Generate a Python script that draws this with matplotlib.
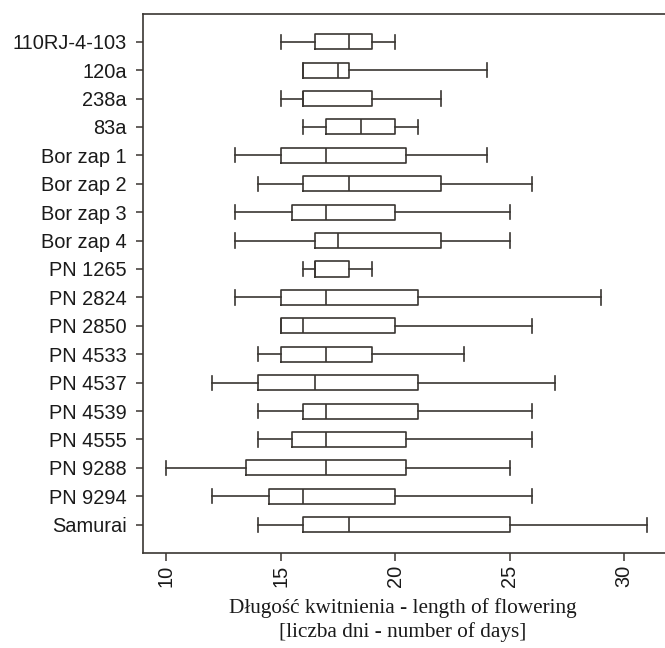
import matplotlib
matplotlib.use("Agg")
import matplotlib.pyplot as plt

categories = ["110RJ-4-103", "120a", "238a", "83a", "Bor zap 1", "Bor zap 2",
              "Bor zap 3", "Bor zap 4", "PN 1265", "PN 2824", "PN 2850",
              "PN 4533", "PN 4537", "PN 4539", "PN 4555", "PN 9288",
              "PN 9294", "Samurai"]
whisker_low = [15, 16, 15, 16, 13, 14, 13, 13, 16, 13, 15, 14, 12, 14, 14, 10, 12, 14]
q1          = [16.5, 16, 16, 17, 15, 16, 15.5, 16.5, 16.5, 15, 15, 15, 14, 16, 15.5, 13.5, 14.5, 16]
median      = [18, 17.5, 16, 18.5, 17, 18, 17, 17.5, 16.5, 17, 16, 17, 16.5, 17, 17, 17, 16, 18]
q3          = [19, 18, 19, 20, 20.5, 22, 20, 22, 18, 21, 20, 19, 21, 21, 20.5, 20.5, 20, 25]
whisker_high = [20, 24, 22, 21, 24, 26, 25, 25, 19, 29, 26, 23, 27, 26, 26, 25, 26, 31]
xticks = [10, 15, 20, 25, 30]

W, H = 665, 648
fig = plt.figure(figsize=(W / 100, H / 100), dpi=100)
left, bottom, top = 142.7 / W, (H - 552.7) / H, (H - 14) / H
ax = fig.add_axes([left, bottom, 1.01 - left, top - bottom])

n = len(categories)
positions = [n - i for i in range(n)]
stats = []
for i in range(n):
    stats.append(dict(whislo=whisker_low[i], q1=q1[i], med=median[i],
                      q3=q3[i], whishi=whisker_high[i], fliers=[]))

lc = "#3a3632"
lw = 1.2
ax.bxp(stats, positions=positions, vert=False, widths=0.53, capwidths=0.5,
       showfliers=False,
       boxprops=dict(color=lc, linewidth=lw),
       medianprops=dict(color=lc, linewidth=lw),
       whiskerprops=dict(color=lc, linewidth=lw, linestyle="-"),
       capprops=dict(color=lc, linewidth=lw))

px_per_unit = 22.9
ax.set_xlim(10 - (166 - 142.7) / px_per_unit, 10 + ((1.01 * W) - 166) / px_per_unit)
ax.set_ylim(0.014, 18.975)
ax.set_yticks(positions)
ax.set_yticklabels(categories, fontfamily="Liberation Sans", fontsize=14.4, color="#1a1a1a")
ax.set_xticks(xticks)
ax.set_xticklabels([str(t) for t in xticks], rotation=90, fontfamily="Liberation Sans",
                   fontsize=14.4, color="#1a1a1a")
ax.tick_params(axis="y", length=5, width=1.1, color=lc, pad=6.5)
ax.tick_params(axis="x", length=6, width=1.1, color=lc, pad=3)
for s in ["left", "top", "bottom"]:
    ax.spines[s].set_color(lc)
    ax.spines[s].set_linewidth(1.2)
ax.spines["right"].set_visible(False)

fig.text(402.5 / W, 1 - 620.5 / H,
         "Długość kwitnienia - length of flowering\n[liczba dni - number of days]",
         ha="center", va="center", fontfamily="Liberation Serif", fontsize=15.3,
         linespacing=1.28, color="#1a1a1a")

fig.savefig("out.png", dpi=100)
